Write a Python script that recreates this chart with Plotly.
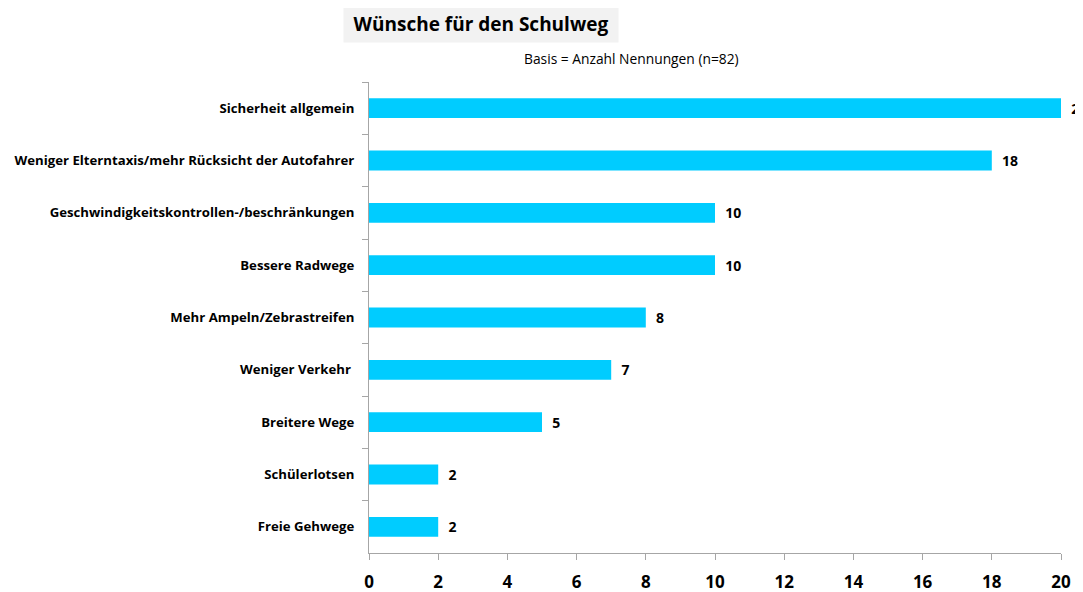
import plotly.graph_objects as go

categories = [
    "Sicherheit allgemein",
    "Weniger Elterntaxis/mehr Rücksicht der Autofahrer",
    "Geschwindigkeitskontrollen-/beschränkungen",
    "Bessere Radwege",
    "Mehr Ampeln/Zebrastreifen",
    "Weniger Verkehr ",
    "Breitere Wege",
    "Schülerlotsen",
    "Freie Gehwege",
]
counts = [20, 18, 10, 10, 8, 7, 5, 2, 2]
x_ticks = [0, 2, 4, 6, 8, 10, 12, 14, 16, 18, 20]

FONT = "Open Sans"
AXIS_GREY = "#A6A6A6"

# page body has an 8px margin: size the figure so it fits the window exactly
W, H = 1075, 584
L, T, R, B = 361, 74, 22, 39
PW = W - L - R
PH = H - T - B

fig = go.Figure()
fig.add_trace(go.Bar(
    x=counts,
    y=categories,
    orientation="h",
    marker=dict(color="#00CCFF", line=dict(width=0)),
    width=0.38,
    text=[str(v) for v in counts],
    texttemplate="  %{text}",
    textposition="outside",
    constraintext="none",
    textfont=dict(family=FONT, size=14, color="black", weight="bold"),
    cliponaxis=False,
))

fig.update_layout(
    width=W,
    height=H,
    margin=dict(l=L, r=R, t=T, b=B, autoexpand=False),
    paper_bgcolor="white",
    plot_bgcolor="white",
    showlegend=False,
    font=dict(family=FONT, color="black"),
)

fig.update_yaxes(
    autorange="reversed",
    showline=True,
    linecolor=AXIS_GREY,
    linewidth=1,
    ticks="outside",
    tickson="boundaries",
    ticklen=6,
    tickcolor=AXIS_GREY,
    tickfont=dict(family=FONT, size=13.2, color="black", weight="bold"),
    ticklabelstandoff=11,
    showgrid=False,
    automargin=False,
)
fig.update_xaxes(
    range=[0, 20],
    tickvals=x_ticks,
    showline=True,
    linecolor=AXIS_GREY,
    linewidth=1,
    ticks="outside",
    ticklen=6,
    tickcolor=AXIS_GREY,
    tickfont=dict(family=FONT, size=17, color="black", weight="bold"),
    ticklabelstandoff=8,
    showgrid=False,
    zeroline=False,
    automargin=False,
)

fig.add_annotation(
    text="<b>Wünsche für den Schulweg</b>",
    xref="paper", yref="paper",
    x=(473 - L) / PW, y=1 + (T - 16) / PH,
    xanchor="center", yanchor="middle",
    showarrow=False,
    font=dict(family=FONT, size=19, color="black"),
    bgcolor="#F2F2F2",
    width=272, height=34,
)
fig.add_annotation(
    text="Basis = Anzahl Nennungen (n=82)",
    xref="paper", yref="paper",
    x=(623 - L) / PW, y=1 + (T - 50) / PH,
    xanchor="center", yanchor="middle",
    showarrow=False,
    font=dict(family=FONT, size=13.8, color="black"),
)

fig.write_html("out.html")
